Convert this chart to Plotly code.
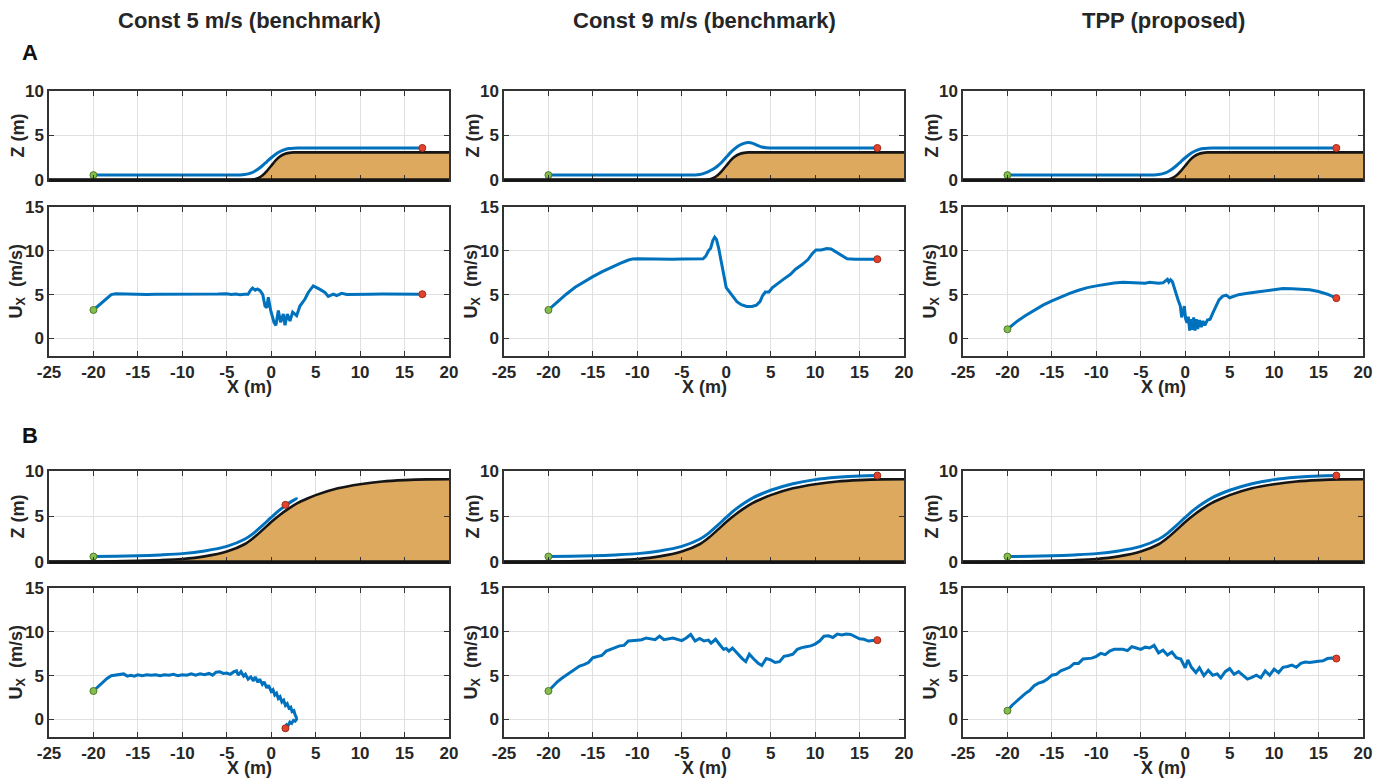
import plotly.graph_objects as go

# ---------------------------------------------------------------- styling
FONT = "Liberation Sans, Arial, Helvetica, sans-serif"
INK = "#262626"
AXIS = "#333333"
GRID = "#E0E0E0"
BLUE = "#0072BD"
SAND = "#DDA95F"
START_FILL, START_EDGE = "#84BD4C", "#4E7A2C"
END_FILL, END_EDGE = "#E3422C", "#9E2A1B"

# figure canvas (pixels); panel geometry below is given in the same pixel frame
W, H = 1374, 781
ORIGIN = 0

# ---------------------------------------------------------------- labels / ticks
COLUMN_TITLES = ["Const 5 m/s (benchmark)", "Const 9 m/s (benchmark)", "TPP (proposed)"]
SCENARIO_LABELS = ["A", "B"]
X_TICKS = [-25, -20, -15, -10, -5, 0, 5, 10, 15, 20]
Z_TICKS = [0, 5, 10]
U_TICKS = [0, 5, 10, 15]
X_RANGE = [-25, 20]
Z_RANGE = [0, 10]
U_RANGE = [-2, 15]

# ---------------------------------------------------------------- terrain profiles (x, z)
TERRAIN_A = [(-25, 0), (-10, 0), (-5, 0), (-2.5, 0), (-2, 0.05), (-1.5, 0.2), (-1, 0.5),
             (-0.5, 1.0), (0, 1.6), (0.5, 2.2), (1, 2.65), (1.5, 2.93), (2, 3.05),
             (2.5, 3.1), (5, 3.1), (10, 3.1), (20, 3.1)]
TERRAIN_B = [(-25, 0.02), (-20, 0.05), (-15, 0.12), (-12.5, 0.2), (-10, 0.33), (-7.5, 0.62),
             (-5, 1.15), (-3, 1.95), (-2, 2.65), (-1, 3.5), (0, 4.4), (1, 5.2), (2, 5.9),
             (3, 6.5), (4, 6.95), (5, 7.35), (7.5, 8.1), (10, 8.55), (12.5, 8.85),
             (15, 9.0), (17.5, 9.08), (20, 9.1)]

# ---------------------------------------------------------------- flight paths (x, z)
PATH_A_CONST5 = [(-20, 0.55), (-10, 0.55), (-5, 0.55), (-3.5, 0.57), (-3, 0.62), (-2.5, 0.72),
                 (-2, 0.9), (-1.5, 1.2), (-1, 1.6), (-0.5, 2.05), (0, 2.5), (0.5, 2.9),
                 (1, 3.2), (1.5, 3.42), (2, 3.53), (2.5, 3.58), (3, 3.6), (5, 3.6),
                 (10, 3.6), (17, 3.6)]
PATH_A_CONST9 = [(-20, 0.55), (-10, 0.55), (-5, 0.55), (-3.5, 0.57), (-3, 0.62), (-2.5, 0.75),
                 (-2, 0.95), (-1.5, 1.2), (-1, 1.55), (-0.5, 2.0), (0, 2.55), (0.5, 3.1),
                 (1, 3.55), (1.5, 3.9), (2, 4.12), (2.5, 4.2), (3, 4.12), (3.5, 3.9),
                 (4, 3.7), (4.5, 3.62), (5, 3.6), (10, 3.6), (17, 3.6)]
PATH_A_TPP = [(-20, 0.55), (-10, 0.55), (-5, 0.55), (-3.5, 0.57), (-3, 0.62), (-2.5, 0.72),
              (-2, 0.9), (-1.5, 1.2), (-1, 1.6), (-0.5, 2.05), (0, 2.5), (0.5, 2.9),
              (1, 3.2), (1.5, 3.42), (2, 3.53), (2.5, 3.58), (3, 3.6), (5, 3.6),
              (10, 3.6), (17, 3.6)]
PATH_B_CONST5 = [(-20, 0.6), (-17.5, 0.63), (-15, 0.68), (-12.5, 0.78), (-10, 0.92),
                 (-7.5, 1.22), (-5, 1.72), (-3, 2.5), (-2, 3.15), (-1, 4.0), (0, 4.9),
                 (1, 5.75), (2, 6.45), (2.85, 6.98), (2.2, 6.62), (1.6, 6.28)]
PATH_B_CONST9 = [(-20, 0.6), (-17.5, 0.63), (-15, 0.68), (-12.5, 0.78), (-10, 0.92),
                 (-7.5, 1.22), (-5, 1.72), (-3, 2.5), (-2, 3.15), (-1, 4.0), (0, 4.9),
                 (1, 5.75), (2, 6.45), (3, 7.05), (4, 7.5), (5, 7.88), (7.5, 8.6),
                 (10, 9.05), (12.5, 9.3), (15, 9.45), (17, 9.5)]
PATH_B_TPP = [(-20, 0.6), (-17.5, 0.63), (-15, 0.68), (-12.5, 0.78), (-10, 0.92),
              (-7.5, 1.22), (-5, 1.72), (-3, 2.5), (-2, 3.15), (-1, 4.0), (0, 4.9),
              (1, 5.75), (2, 6.45), (3, 7.05), (4, 7.5), (5, 7.88), (7.5, 8.6),
              (10, 9.05), (12.5, 9.3), (15, 9.45), (17, 9.5)]

# ---------------------------------------------------------------- forward speed U_X (x, u)
UX_A_CONST5 = [(-20, 3.25), (-19.5, 3.7), (-19, 4.15), (-18.5, 4.6), (-18, 5.0), (-17.5, 5.1),
               (-17, 5.08), (-16, 5.03), (-15, 5.05), (-14, 5.03), (-13, 5.05), (-12, 5.04),
               (-11, 5.06), (-10, 5.04), (-9, 5.05), (-8, 5.07), (-7, 5.04), (-6, 5.06),
               (-5, 5.1), (-4.5, 5.02), (-4, 5.06), (-3.5, 5.0), (-3, 5.05), (-2.6, 5.05),
               (-2.3, 5.55), (-2.1, 5.75), (-1.8, 5.5), (-1.55, 5.65), (-1.25, 5.45),
               (-0.95, 5.0), (-0.7, 3.7), (-0.5, 3.5), (-0.33, 4.7), (-0.06, 3.2),
               (0.31, 1.85), (0.53, 1.5), (0.8, 3.2), (1.06, 1.85), (1.36, 2.8), (1.55, 1.5),
               (1.81, 2.8), (2.11, 2.0), (2.41, 3.0), (2.86, 2.6), (3.23, 3.7), (3.8, 4.5),
               (4.17, 5.25), (4.73, 6.0), (5.48, 5.6), (6.05, 5.25), (6.42, 4.8), (6.98, 5.05),
               (7.36, 4.9), (7.92, 5.15), (8.5, 5.02), (9.5, 5.06), (11, 5.04), (12.5, 5.06),
               (14, 5.04), (15.5, 5.06), (17, 5.05)]
UX_A_CONST9 = [(-20, 3.25), (-19, 4.2), (-18, 5.05), (-17, 5.85), (-16, 6.5), (-15, 7.05),
               (-14, 7.6), (-13, 8.1), (-12, 8.55), (-11, 8.95), (-10.5, 9.08), (-10, 9.1),
               (-9, 9.08), (-8, 9.03), (-7, 9.08), (-6, 9.05), (-5, 9.07), (-4, 9.05),
               (-3, 9.03), (-2.6, 9.1), (-2.3, 9.4), (-2.0, 10.0), (-1.75, 10.3), (-1.5, 11.2),
               (-1.3, 11.55), (-1.1, 11.3), (-0.85, 10.3), (-0.6, 8.9), (-0.3, 7.3), (0, 5.8),
               (0.3, 5.4), (0.7, 4.8), (1.2, 4.2), (1.7, 3.85), (2.3, 3.65), (2.9, 3.65),
               (3.4, 3.8), (3.8, 4.2), (4.1, 4.9), (4.4, 5.3), (4.8, 5.3), (5.2, 5.8),
               (5.8, 6.3), (6.5, 6.8), (7.2, 7.3), (7.8, 7.9), (8.5, 8.4), (9.2, 9.0),
               (9.7, 9.7), (10.1, 10.1), (10.7, 10.1), (11.3, 10.25), (11.8, 10.2),
               (12.4, 9.8), (13, 9.4), (13.6, 9.1), (14.5, 9.05), (15.5, 9.06), (16.2, 9.08),
               (17, 9.05)]
UX_A_TPP = [(-20, 1.05), (-19, 1.9), (-18, 2.6), (-17, 3.25), (-16, 3.8), (-15, 4.3),
            (-14, 4.75), (-13, 5.15), (-12, 5.5), (-11, 5.8), (-10, 6.0), (-9, 6.2),
            (-8, 6.33), (-7, 6.42), (-6, 6.4), (-5, 6.35), (-4.5, 6.3), (-4, 6.4),
            (-3.5, 6.35), (-3, 6.3), (-2.5, 6.35), (-2.2, 6.55), (-2.0, 6.75), (-1.85, 6.45),
            (-1.65, 6.7), (-1.45, 6.5), (-1.25, 5.8), (-1.0, 5.0), (-0.8, 4.4), (-0.55, 3.7),
            (-0.4, 2.4), (-0.25, 3.0), (-0.1, 3.7), (0.05, 2.2), (0.2, 1.8), (0.35, 2.5),
            (0.5, 0.9), (0.65, 2.2), (0.8, 1.0), (0.95, 2.4), (1.1, 0.9), (1.25, 2.2),
            (1.4, 1.1), (1.6, 2.1), (1.8, 1.3), (2.0, 2.0), (2.2, 1.5), (2.5, 2.1),
            (2.8, 2.2), (3.1, 2.9), (3.4, 3.6), (3.8, 4.4), (4.2, 4.8), (4.6, 4.95),
            (5.0, 4.65), (5.4, 4.8), (6, 5.0), (7, 5.15), (8, 5.3), (9, 5.45), (10, 5.6),
            (11, 5.7), (12, 5.68), (13, 5.65), (14, 5.55), (15, 5.35), (16, 5.05), (17, 4.6)]
UX_B_CONST5 = [(-20, 3.25), (-19.5, 3.75), (-19, 4.2), (-18.5, 4.65), (-18, 5.0), (-17.5, 5.05),
               (-17, 5.1), (-16.6, 5.2), (-16.2, 4.95), (-15.8, 5.05), (-15.4, 4.95),
               (-15, 5.1), (-14.5, 5.0), (-14, 5.1), (-13.5, 5.05), (-13, 5.1), (-12.5, 5.0),
               (-12, 5.1), (-11.5, 5.05), (-11, 5.15), (-10.5, 5.0), (-10, 5.1), (-9.5, 5.05),
               (-9, 5.2), (-8.5, 5.05), (-8, 5.2), (-7.5, 5.1), (-7, 5.25), (-6.6, 5.05),
               (-6.2, 5.4), (-5.8, 5.45), (-5.4, 5.25), (-5, 5.3), (-4.6, 5.15), (-4.2, 5.45),
               (-3.9, 5.55), (-3.7, 5.05), (-3.4, 5.45), (-3.1, 4.95), (-2.9, 5.15),
               (-2.6, 4.6), (-2.3, 4.85), (-2.0, 4.4), (-1.8, 4.85), (-1.5, 4.25), (-1.3, 4.6),
               (-1.0, 4.0), (-0.8, 4.3), (-0.5, 3.6), (-0.3, 3.9), (0.0, 3.2), (0.2, 3.4),
               (0.4, 2.8), (0.6, 3.0), (0.8, 2.4), (1.0, 2.6), (1.2, 2.0), (1.4, 2.2),
               (1.6, 1.6), (1.8, 1.8), (2.0, 1.3), (2.2, 1.4), (2.35, 0.9), (2.55, 1.0),
               (2.7, 0.5), (2.8, 0.3), (2.85, 0.0), (2.7, -0.2), (2.5, -0.1), (2.3, -0.45),
               (2.1, -0.3), (1.9, -0.7), (1.75, -0.6), (1.6, -1.0)]
UX_B_CONST9 = [(-20, 3.25), (-19.5, 3.8), (-19, 4.3), (-18.5, 4.7), (-18, 5.05), (-17.5, 5.35),
               (-17, 5.65), (-16.5, 6.1), (-16, 6.25), (-15.5, 6.5), (-15, 7.05), (-14.5, 7.2),
               (-14, 7.3), (-13.5, 7.8), (-13, 8.0), (-12.5, 8.2), (-12, 8.4), (-11.5, 8.45),
               (-11, 8.95), (-10, 9.05), (-9.5, 9.1), (-9, 9.3), (-8, 9.1), (-7.5, 9.5),
               (-7, 9.1), (-6, 9.3), (-5, 9.0), (-4.5, 9.3), (-4, 9.7), (-3.5, 8.95),
               (-3, 9.25), (-2.5, 8.95), (-2, 9.05), (-1.7, 8.7), (-1.2, 9.15), (-0.7, 8.5),
               (-0.3, 8.0), (0, 8.1), (0.3, 7.8), (0.7, 8.15), (1.2, 7.55), (1.8, 6.95),
               (2.2, 6.6), (2.6, 7.45), (3.1, 6.9), (3.6, 6.4), (4, 6.15), (4.5, 6.95),
               (5, 6.8), (5.5, 6.5), (6, 6.6), (6.5, 7.2), (7, 7.3), (7.5, 7.45), (8, 8.0),
               (8.5, 8.2), (9, 8.3), (9.5, 8.4), (10, 8.6), (10.5, 8.95), (11, 9.5),
               (11.5, 9.55), (12, 9.35), (12.5, 9.75), (13, 9.65), (13.5, 9.75), (14, 9.7),
               (14.5, 9.45), (15, 9.2), (15.5, 9.15), (16, 8.95), (16.5, 9.0), (17, 9.05)]
UX_B_TPP = [(-20, 1.0), (-19.5, 1.6), (-19, 2.05), (-18.5, 2.55), (-18, 2.95), (-17.5, 3.3),
            (-17, 3.85), (-16.5, 4.15), (-16, 4.3), (-15.5, 4.6), (-15, 5.05), (-14.5, 5.15),
            (-14, 5.55), (-13.5, 5.75), (-13, 5.95), (-12.5, 6.4), (-12, 6.4), (-11.5, 6.9),
            (-11, 6.95), (-10.5, 7.0), (-10, 7.2), (-9.5, 7.55), (-9, 7.4), (-8.5, 7.8),
            (-8, 8.0), (-7, 8.0), (-6.5, 7.85), (-6, 8.3), (-5.5, 8.15), (-5, 8.0),
            (-4.5, 8.25), (-4, 8.15), (-3.5, 8.45), (-3, 7.6), (-2.5, 7.9), (-2, 7.35),
            (-1.5, 7.7), (-1, 7.05), (-0.5, 6.9), (0, 5.9), (0.3, 6.8), (0.7, 5.95),
            (1.2, 5.35), (1.6, 5.9), (2.1, 5.0), (2.6, 5.6), (3.1, 5.05), (3.6, 5.2),
            (4, 4.75), (4.5, 5.45), (5, 5.8), (5.5, 5.15), (6, 5.45), (6.5, 5.05), (7, 4.6),
            (7.5, 4.8), (8, 5.05), (8.5, 4.75), (9, 5.55), (9.5, 5.05), (10, 5.75),
            (10.5, 5.35), (11, 5.95), (11.5, 6.05), (12, 6.2), (12.5, 5.95), (13, 6.4),
            (13.5, 6.55), (14, 6.5), (15, 6.65), (15.5, 6.7), (16, 6.95), (16.5, 7.0),
            (17, 6.95)]

TERRAINS = [TERRAIN_A, TERRAIN_B]
PATHS = [[PATH_A_CONST5, PATH_A_CONST9, PATH_A_TPP],
         [PATH_B_CONST5, PATH_B_CONST9, PATH_B_TPP]]
SPEEDS = [[UX_A_CONST5, UX_A_CONST9, UX_A_TPP],
          [UX_B_CONST5, UX_B_CONST9, UX_B_TPP]]

# ---------------------------------------------------------------- panel geometry (pixels)
COL_PX = [(49, 449), (504, 904), (963, 1363)]
ROW_PX = [(91, 180), (207, 356), (471, 562), (588, 737)]  # A-z, A-u, B-z, B-u


def px_x(p):
    """pixel x -> paper fraction"""
    return (p - ORIGIN) / W


def px_y(p):
    """pixel y -> paper fraction"""
    return 1 - (p - ORIGIN) / H


def unzip(pairs):
    return [p[0] for p in pairs], [p[1] for p in pairs]


fig = go.Figure()
tick_font = dict(family=FONT, size=17, color=INK, weight="bold")
label_font = dict(family=FONT, size=18, color=INK, weight="bold")

annotations = []
shapes = []


def axis_name(idx):
    return "" if idx == 0 else str(idx + 1)


def add_end_markers(x, y, xa, ya):
    fig.add_trace(go.Scatter(
        x=[x[0]], y=[y[0]], xaxis=xa, yaxis=ya, mode="markers", cliponaxis=False,
        marker=dict(size=7, color=START_FILL, line=dict(color=START_EDGE, width=1)),
        showlegend=False, hoverinfo="skip"))
    fig.add_trace(go.Scatter(
        x=[x[-1]], y=[y[-1]], xaxis=xa, yaxis=ya, mode="markers", cliponaxis=False,
        marker=dict(size=7, color=END_FILL, line=dict(color=END_EDGE, width=1)),
        showlegend=False, hoverinfo="skip"))


for s in range(2):
    for c in range(3):
        for kind in range(2):  # 0: altitude, 1: forward speed
            r = 2 * s + kind
            idx = r * 3 + c
            name = axis_name(idx)
            xa, ya = "x" + name, "y" + name
            is_z = kind == 0

            common = dict(showline=True, linecolor=AXIS, linewidth=1.5, mirror="ticks",
                          ticks="inside", ticklen=5, tickwidth=1.2, tickcolor=AXIS,
                          showgrid=True, gridcolor=GRID, gridwidth=1, zeroline=False,
                          tickfont=tick_font, fixedrange=True, automargin=False)
            fig.layout["xaxis" + name] = dict(
                common, domain=[px_x(COL_PX[c][0]), px_x(COL_PX[c][1])], anchor=ya,
                range=X_RANGE, tickvals=X_TICKS, ticktext=[str(v) for v in X_TICKS],
                showticklabels=not is_z)
            fig.layout["yaxis" + name] = dict(
                common, domain=[px_y(ROW_PX[r][1]), px_y(ROW_PX[r][0])], anchor=xa,
                range=Z_RANGE if is_z else U_RANGE,
                tickvals=Z_TICKS if is_z else U_TICKS,
                ticktext=[str(v) for v in (Z_TICKS if is_z else U_TICKS)])

            if is_z:
                tx, tz = unzip(TERRAINS[s])
                fig.add_trace(go.Scatter(
                    x=tx, y=tz, xaxis=xa, yaxis=ya, mode="lines", fill="tozeroy",
                    fillcolor=SAND, line=dict(color="#151515", width=2.6, shape="spline",
                                               smoothing=0.8),
                    showlegend=False, hoverinfo="skip"))
                px_, pz = unzip(PATHS[s][c])
                fig.add_trace(go.Scatter(
                    x=px_, y=pz, xaxis=xa, yaxis=ya, mode="lines",
                    line=dict(color=BLUE, width=3, shape="spline", smoothing=0.8),
                    showlegend=False, hoverinfo="skip"))
                add_end_markers(px_, pz, xa, ya)
                # heavy ground line along the bottom of the altitude panel
                yb = px_y(ROW_PX[r][1])
                shapes.append(dict(type="line", xref="paper", yref="paper",
                                   x0=px_x(COL_PX[c][0]), x1=px_x(COL_PX[c][1]), y0=yb, y1=yb,
                                   line=dict(color="#151515", width=3.5), layer="above"))
                ylabel = "Z (m)"
            else:
                ux, uu = unzip(SPEEDS[s][c])
                fig.add_trace(go.Scatter(
                    x=ux, y=uu, xaxis=xa, yaxis=ya, mode="lines",
                    line=dict(color=BLUE, width=3),
                    showlegend=False, hoverinfo="skip"))
                add_end_markers(ux, uu, xa, ya)
                ylabel = "U<sub>X</sub>  (m/s)"
                annotations.append(dict(
                    text="X (m)", xref="paper", yref="paper",
                    x=px_x((COL_PX[c][0] + COL_PX[c][1]) / 2),
                    y=px_y(ROW_PX[r][1] + 31), showarrow=False, font=label_font,
                    xanchor="center", yanchor="middle"))

            annotations.append(dict(
                text=ylabel, xref="paper", yref="paper", textangle=-90,
                x=px_x(COL_PX[c][0] - 32),
                y=px_y((ROW_PX[r][0] + ROW_PX[r][1]) / 2), showarrow=False,
                font=label_font, xanchor="center", yanchor="middle"))

# column headings
for c, title in enumerate(COLUMN_TITLES):
    annotations.append(dict(
        text=title, xref="paper", yref="paper",
        x=px_x((COL_PX[c][0] + COL_PX[c][1]) / 2), y=px_y(20), showarrow=False,
        font=dict(family=FONT, size=22, color=INK, weight="bold"),
        xanchor="center", yanchor="middle"))

# scenario letters
for letter, ypx in zip(SCENARIO_LABELS, [52, 435]):
    annotations.append(dict(
        text=letter, xref="paper", yref="paper", x=px_x(30), y=px_y(ypx),
        showarrow=False, font=dict(family=FONT, size=22, color="#111111", weight="bold"),
        xanchor="center", yanchor="middle"))

fig.update_layout(
    width=W, height=H, autosize=False,
    margin=dict(l=0, r=0, t=0, b=0),
    paper_bgcolor="white", plot_bgcolor="white",
    annotations=annotations, shapes=shapes, showlegend=False,
)

fig.write_html("out.html", config={"displayModeBar": False})
